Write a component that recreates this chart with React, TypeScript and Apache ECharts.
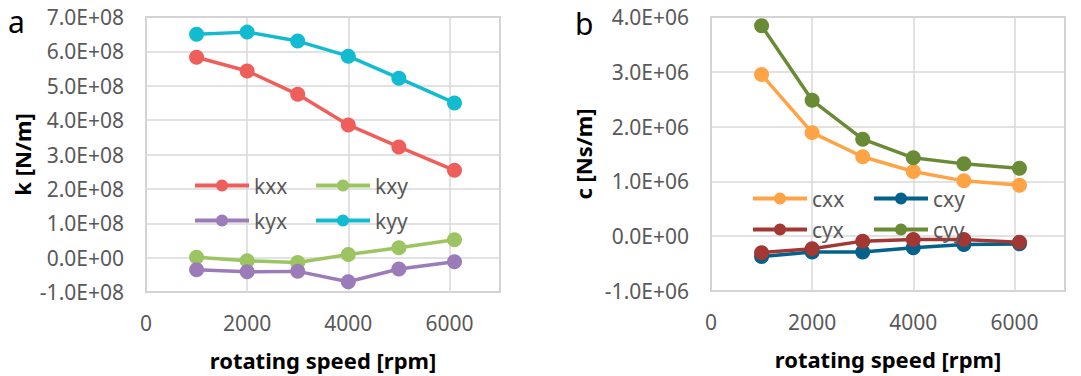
import React, { useEffect, useRef } from "react";
import * as echarts from "echarts";

const rpm = [1000, 2000, 3000, 4000, 5000, 6100];

const kxx = [5.83e8, 5.43e8, 4.75e8, 3.86e8, 3.22e8, 2.54e8];
const kxy = [0.01e8, -0.09e8, -0.14e8, 0.09e8, 0.29e8, 0.52e8];
const kyx = [-0.35e8, -0.41e8, -0.4e8, -0.7e8, -0.33e8, -0.12e8];
const kyy = [6.5e8, 6.56e8, 6.3e8, 5.86e8, 5.22e8, 4.5e8];

const cxx = [2.95e6, 1.89e6, 1.45e6, 1.18e6, 1.01e6, 0.93e6];
const cxy = [-0.37e6, -0.29e6, -0.29e6, -0.21e6, -0.15e6, -0.14e6];
const cyx = [-0.3e6, -0.23e6, -0.09e6, -0.06e6, -0.06e6, -0.11e6];
const cyy = [3.84e6, 2.48e6, 1.77e6, 1.43e6, 1.32e6, 1.24e6];

const kNames = ["kxx", "kxy", "kyx", "kyy"];
const kColors = ["#EE5E5A", "#9DC462", "#9B7BB8", "#13BBD1"];
const cNames = ["cxx", "cxy", "cyx", "cyy"];
const cColors = ["#FFA446", "#03618C", "#A23834", "#6A8B35"];

const FONT = "'Noto Sans', 'Open Sans', sans-serif";
const GREY = "#595959";

function sci(v: number): string {
  if (v === 0) return "0.0E+00";
  const sign = v < 0 ? "-" : "";
  const a = Math.abs(v);
  let e = Math.floor(Math.log10(a) + 1e-9);
  let m = a / Math.pow(10, e);
  let ms = m.toFixed(1);
  if (ms === "10.0") {
    e += 1;
    ms = "1.0";
  }
  const es = (e < 10 ? "0" : "") + e;
  return sign + ms + "E+" + es;
}

export default function App() {
  const ref = useRef<HTMLDivElement>(null);
  useEffect(() => {
    if (!ref.current) return;
    const chart = echarts.init(ref.current, undefined, { renderer: "svg" });

    const xAxisBase = (gridIndex: number) => ({
      type: "value" as const,
      gridIndex,
      min: 0,
      max: 7000,
      interval: 2000,
      name: "rotating speed [rpm]",
      nameLocation: "middle" as const,
      nameGap: 57,
      nameTextStyle: { fontFamily: FONT, fontSize: 22, fontWeight: "bold", color: "#000" },
      axisLine: { show: false },
      axisTick: { show: false },
      axisLabel: {
        fontFamily: FONT,
        fontSize: 21,
        color: GREY,
        margin: 20,
        showMaxLabel: false,
        formatter: (v: number) => String(v),
      },
      splitLine: { show: true, lineStyle: { color: "#d9d9d9", width: 1.5 } },
    });

    const yAxisBase = (gridIndex: number, name: string, min: number, max: number, interval: number, gap: number) => ({
      type: "value" as const,
      gridIndex,
      min,
      max,
      interval,
      name,
      nameLocation: "middle" as const,
      nameGap: gap,
      nameTextStyle: { fontFamily: FONT, fontSize: 22, fontWeight: "bold", color: "#000" },
      axisLine: { show: false },
      axisTick: { show: false },
      axisLabel: { fontFamily: FONT, fontSize: 21, color: GREY, margin: 22, formatter: (v: number) => sci(v) },
      splitLine: { show: true, lineStyle: { color: "#d9d9d9", width: 1.5 } },
    });

    const mkSeries = (name: string, color: string, data: number[], idx: number) => ({
      type: "line" as const,
      name,
      xAxisIndex: idx,
      yAxisIndex: idx,
      data: rpm.map((x, i) => [x, data[i]]),
      symbol: "circle",
      symbolSize: 15,
      showSymbol: true,
      lineStyle: { color, width: 3.5 },
      itemStyle: { color },
      z: 3,
    });

    const kData = [kxx, kxy, kyx, kyy];
    const cData = [cxx, cxy, cyx, cyy];

    const legendPos = [
      { left: 193, top: 175 },
      { left: 314, top: 175 },
      { left: 193, top: 210 },
      { left: 314, top: 210 },
    ];
    const legendPosC = [
      { left: 751, top: 188 },
      { left: 872, top: 188 },
      { left: 751, top: 219 },
      { left: 872, top: 219 },
    ];

    const mkLegend = (name: string, pos: { left: number; top: number }) => ({
      data: [name],
      left: pos.left,
      top: pos.top,
      padding: 0,
      itemWidth: 54,
      itemHeight: 15,
      lineStyle: { width: 4 },
      textStyle: { fontFamily: FONT, fontSize: 21, color: GREY },
      selectedMode: false,
    });

    chart.setOption({
      animation: false,
      backgroundColor: "#ffffff",
      grid: [
        { left: 146, top: 17, width: 354, height: 275, show: true, borderColor: "#c8c8c8", borderWidth: 2, backgroundColor: "transparent" },
        { left: 711, top: 17, width: 354, height: 274, show: true, borderColor: "#c8c8c8", borderWidth: 2, backgroundColor: "transparent" },
      ],
      xAxis: [xAxisBase(0), xAxisBase(1)],
      yAxis: [
        yAxisBase(0, "k [N/m]", -1e8, 7e8, 1e8, 113),
        yAxisBase(1, "c [Ns/m]", -1e6, 4e6, 1e6, 117),
      ],
      legend: [
        ...kNames.map((n, i) => mkLegend(n, legendPos[i])),
        ...cNames.map((n, i) => mkLegend(n, legendPosC[i])),
      ],
      graphic: [
        { type: "text", left: 8, top: 6, style: { text: "a", fontFamily: FONT, fontSize: 30, fill: "#000" } },
        { type: "text", left: 575, top: 8, style: { text: "b", fontFamily: FONT, fontSize: 30, fill: "#000" } },
      ],
      series: [
        ...kNames.map((n, i) => mkSeries(n, kColors[i], kData[i], 0)),
        ...cNames.map((n, i) => mkSeries(n, cColors[i], cData[i], 1)),
      ],
    });

    return () => chart.dispose();
  }, []);

  return (
    <div
      ref={ref}
      style={{ position: "absolute", left: 0, top: 0, width: 1081, height: 376, background: "#fff" }}
    />
  );
}
